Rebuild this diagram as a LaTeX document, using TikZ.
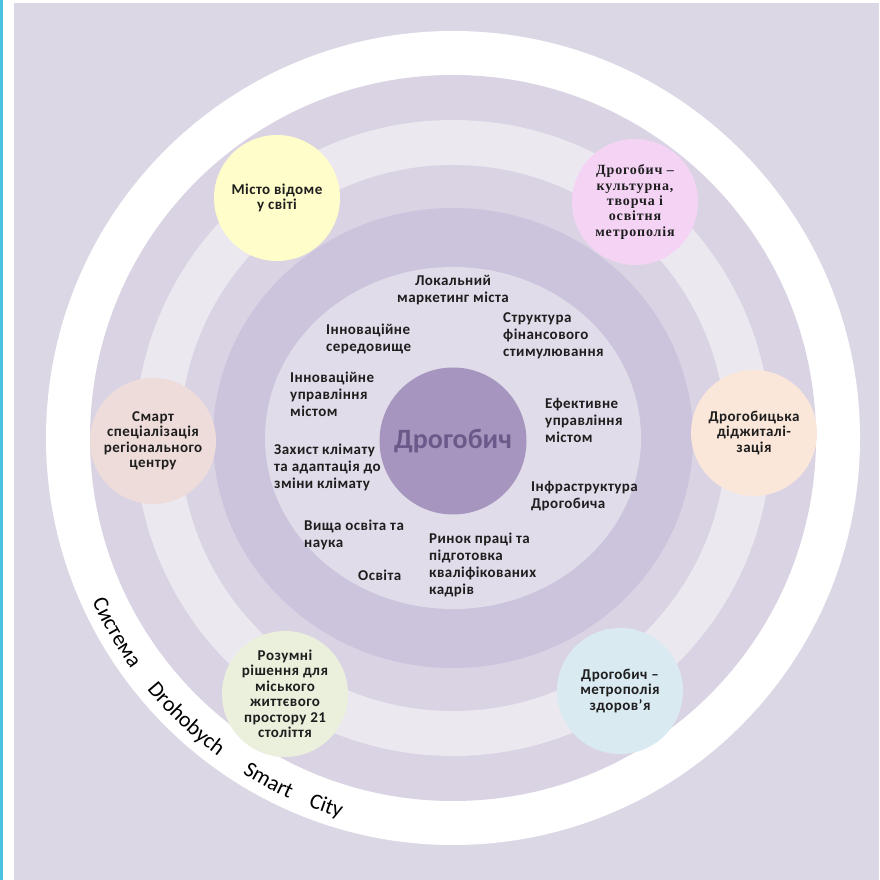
\documentclass[tikz,border=0pt]{standalone}
\usepackage{fontspec}
\setmainfont{Carlito}
\newfontfamily\serifb[LetterSpace=6]{Liberation Serif}
\newfontfamily\lblfont[LetterSpace=3]{Carlito}
\usetikzlibrary{decorations.text}
\definecolor{cyanbar}{HTML}{4BC3E0}
\definecolor{bgc}{HTML}{DCD7E5}
\definecolor{medc}{HTML}{D9D3E3}
\definecolor{lightc}{HTML}{EBE8F0}
\definecolor{darkc}{HTML}{CCC3DC}
\definecolor{discc}{HTML}{E1DCE9}
\definecolor{corec}{HTML}{A696BF}
\definecolor{coretext}{HTML}{6A5A8A}
\definecolor{yellowc}{HTML}{FFFDC9}
\definecolor{pinkc}{HTML}{F5D3F5}
\definecolor{smartc}{HTML}{EEDCDA}
\definecolor{digic}{HTML}{FBE7D9}
\definecolor{greenc}{HTML}{EBF0DC}
\definecolor{bluec}{HTML}{D9EAF1}
\definecolor{txt}{HTML}{1E1E1E}
\newcommand\curvefont{\fontsize{22pt}{22pt}\selectfont}
\tikzset{
  sat/.style={circle, minimum size=126pt, inner sep=0pt, align=center, text=txt,
    font=\lblfont\bfseries\fontsize{15}{15.5}\selectfont},
  lbl/.style={anchor=base west, align=left, inner sep=0pt, text=txt,
    font=\lblfont\bfseries\fontsize{15}{17}\selectfont},
  core/.style={circle, minimum size=147pt, inner sep=0pt, fill=corec, text=coretext,
    font=\bfseries\fontsize{28}{30}\selectfont},
  curve/.style={decorate, decoration={text along path, text align=center, text={|\curvefont|#1}}}
}
\begin{document}
\begin{tikzpicture}[x=1pt,y=1pt]
\useasboundingbox (0,0) rectangle (879,880);
\fill[white] (0,0) rectangle (879,880);
\fill[cyanbar] (0,0) rectangle (3,880);
\fill[bgc] (14,0) rectangle (879,877);
\coordinate (C) at (453,442);
\fill[white] (C) circle (407pt);
\fill[medc] (C) circle (363pt);
\fill[lightc] (C) circle (318pt);
\fill[medc] (C) circle (273pt);
\fill[darkc] (C) ellipse [x radius=240pt, y radius=230pt];
\fill[discc] (C) ellipse [x radius=188pt, y radius=171pt];
\node[core] (core) at (453,439) {Дрогобич};

\node[sat, fill=yellowc] (s1) at (277,682) {Місто відоме\\у світі};
\node[sat, fill=pinkc, font=\serifb\bfseries\fontsize{14}{15.3}\selectfont] (s2) at (635,678) {Дрогобич –\\культурна,\\творча і\\освітня\\метрополія};
\node[sat, fill=smartc] (s3) at (153,439) {Смарт\\спеціалізація\\регіонального\\центру};
\node[sat, fill=digic] (s4) at (754,447) {Дрогобицька\\діджиталі-\\зація};
\node[sat, fill=greenc] (s5) at (285,186) {Розумні\\рішення для\\міського\\життєвого\\простору 21\\століття};
\node[sat, fill=bluec] (s6) at (620,189) {Дрогобич –\\метрополія\\здоров’я};

\node[lbl, anchor=base, align=center] (l1) at (453,577) {Локальний\\маркетинг міста};
\node[lbl] (l2) at (503,523) {Структура\\фінансового\\стимулювання};
\node[lbl] (l3) at (326,528) {Інноваційне\\середовище};
\node[lbl] (l4) at (290,463) {Інноваційне\\управління\\містом};
\node[lbl] (l5) at (545,437) {Ефективне\\управління\\містом};
\node[lbl] (l6) at (274,391) {Захист клімату\\та адаптація до\\зміни клімату};
\node[lbl] (l7) at (531,371) {Інфраструктура\\Дрогобича};
\node[lbl] (l8) at (304,332) {Вища освіта та\\наука};
\node[lbl] (l9) at (429,285) {Ринок праці та\\підготовка\\кваліфікованих\\кадрів};
\node[lbl] (l10) at (358,299) {Освіта};

\path[curve=Система] ([shift={(C)}]200:396pt) arc[start angle=200, end angle=220, radius=396pt];
\path[curve=Drohobych] ([shift={(C)}]216.5:396pt) arc[start angle=216.5, end angle=236.5, radius=396pt];
\path[curve=Smart] ([shift={(C)}]231.7:396pt) arc[start angle=231.7, end angle=251.7, radius=396pt];
\path[curve=City] ([shift={(C)}]241:396pt) arc[start angle=241, end angle=261, radius=396pt];
\end{tikzpicture}
\end{document}
